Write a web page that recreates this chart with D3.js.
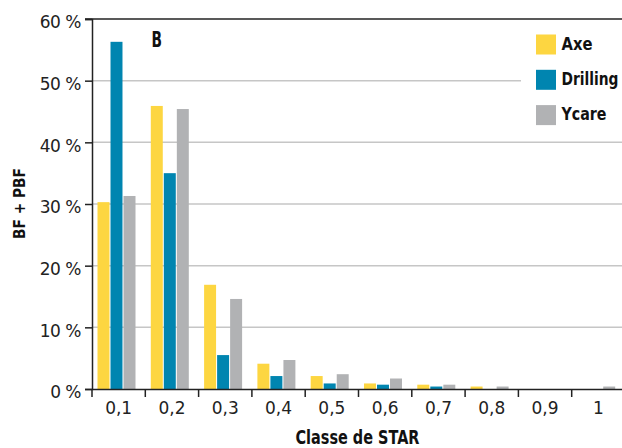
<!DOCTYPE html>
<html><head><meta charset="utf-8">
<script src="https://cdn.jsdelivr.net/npm/d3@7"></script>
<style>
html,body{margin:0;padding:0;background:#fff;}
svg{display:block;font-family:"DejaVu Sans",sans-serif;}
</style></head>
<body><svg id="c" width="622" height="448"></svg>
<script>
const categories = ["0,1","0,2","0,3","0,4","0,5","0,6","0,7","0,8","0,9","1"];
const seriesNames = ["Axe","Drilling","Ycare"];
const axeValues      = [30.3, 45.9, 16.9, 4.1, 2.1, 0.9, 0.7, 0.4, 0, 0];
const drillingValues = [56.3, 35.0, 5.5, 2.1, 0.9, 0.7, 0.4, 0, 0, 0];
const ycareValues    = [31.3, 45.4, 14.6, 4.7, 2.4, 1.7, 0.7, 0.4, 0, 0.4];
const yTicks = [0,10,20,30,40,50,60];
const colors = ["#fdd641","#0085b0","#b1b2b4"];

(function(){
const series = [axeValues, drillingValues, ycareValues];
const svg = d3.select("#c");
const mLeft = 92, mRight = 625, mTop = 19, mBottom = 389;

const x = d3.scaleBand().domain(categories).range([mLeft, mRight]).padding(0);
const xs = d3.scaleBand().domain(seriesNames).range([5.5, 5.5+38]).paddingInner(0.08);
const y = d3.scaleLinear().domain([0,60]).range([mBottom, mTop]);

svg.append("g").selectAll("line").data(yTicks.filter(t=>t>0 && t<60)).join("line")
  .attr("x1", mLeft).attr("x2", 622).attr("y1", d=>y(d)).attr("y2", d=>y(d))
  .attr("stroke","#c6c6c6").attr("stroke-width",1.5);

series.forEach((vals,i)=>{
  svg.append("g").selectAll("rect").data(vals).join("rect")
    .attr("x",(d,j)=>x(categories[j])+xs(seriesNames[i]))
    .attr("width", xs.bandwidth())
    .attr("y", d=>y(d)).attr("height", d=>mBottom-y(d))
    .attr("fill", colors[i]);
});

svg.append("line").attr("x1",mLeft-7).attr("x2",622).attr("y1",y(60)).attr("y2",y(60))
  .attr("stroke","#222").attr("stroke-width",1.5);

const yAxis = d3.axisLeft(y).tickValues(yTicks).tickSize(7).tickPadding(4)
  .tickFormat(d=>d+" %");
const gy = svg.append("g").attr("transform",`translate(${mLeft},0)`).call(yAxis);
gy.attr("font-family",null);
gy.select(".domain").attr("stroke","#222").attr("stroke-width",1.5);
gy.selectAll(".tick line").attr("stroke","#222").attr("stroke-width",1.5);
gy.selectAll("text").attr("font-size",17).attr("fill","#222").attr("dy","0.52em")
  .attr("letter-spacing","-0.5");

const xAxis = d3.axisBottom(x).tickSize(0).tickPadding(13);
const gx = svg.append("g").attr("transform",`translate(0,${mBottom})`).call(xAxis);
gx.attr("font-family",null);
gx.select(".domain").attr("stroke","#222").attr("stroke-width",1.5);
gx.selectAll("text").attr("font-size",17).attr("fill","#222");
gx.append("g").selectAll("line").data(categories).join("line")
  .attr("x1",d=>x(d)).attr("x2",d=>x(d)).attr("y1",0).attr("y2",8)
  .attr("stroke","#222").attr("stroke-width",1.5);

// helper: horizontally condensed text via scale transform
function condensed(sel, tx, ty, target, rotate){
  const w = sel.node().getComputedTextLength();
  const s = target / w;
  sel.attr("transform", `translate(${tx},${ty})` + (rotate ? " rotate(-90)" : "") + ` scale(${s},1)`);
}

const xt = svg.append("text").attr("text-anchor","middle")
  .attr("font-weight","bold").attr("font-size",19).attr("fill","#111").text("Classe de STAR");
condensed(xt, 357.5, 444, 124, false);
const yt = svg.append("text").attr("text-anchor","middle")
  .attr("font-weight","bold").attr("font-size",16).attr("fill","#111").text("BF + PBF");
condensed(yt, 25, 203.5, 71, true);

const bl = svg.append("text").attr("font-weight","bold")
  .attr("font-size",21).attr("fill","#111").text("B");
condensed(bl, 151.5, 46.5, 10.5, false);

const legendWidths = [31, 57, 45];
const lg = svg.append("g");
lg.append("rect").attr("x",521).attr("y",22).attr("width",101).attr("height",110).attr("fill","#fff");
seriesNames.forEach((n,i)=>{
  lg.append("rect").attr("x",536).attr("y",34.5+i*35.3).attr("width",20).attr("height",20).attr("fill",colors[i]);
  const t = lg.append("text").attr("font-weight","bold")
    .attr("font-size",18).attr("fill","#111").text(n);
  condensed(t, 561.5, 50+i*35, legendWidths[i], false);
});
})();
</script></body></html>
